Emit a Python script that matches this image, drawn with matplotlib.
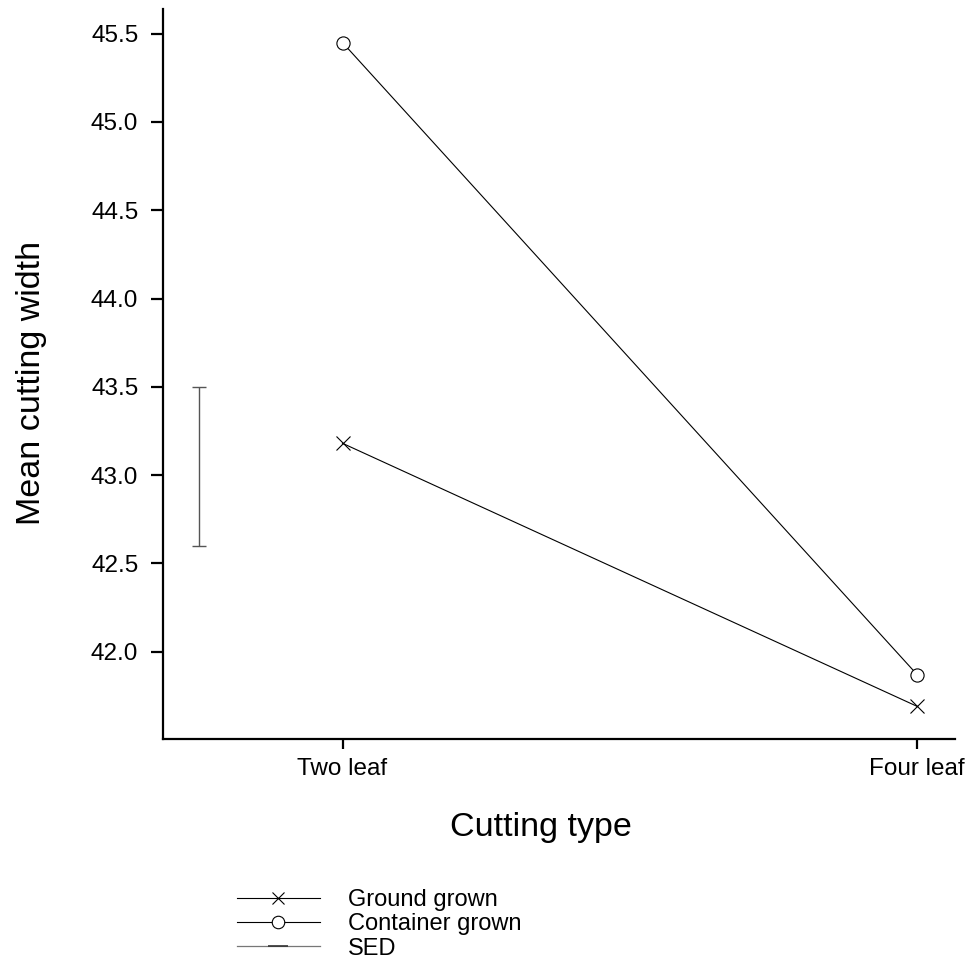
import matplotlib
matplotlib.use("Agg")
import matplotlib.pyplot as plt
from matplotlib.lines import Line2D

plt.rcParams['font.family'] = ['Liberation Sans', 'DejaVu Sans']

# Data
cutting_types = ["Two leaf", "Four leaf"]
ground_grown = [43.18, 41.69]
container_grown = [45.45, 41.87]
sed_low, sed_high = 42.6, 43.5

x = [1, 2]
sed_x = 0.75

fig = plt.figure(figsize=(9.66, 9.58), dpi=100)
ax = fig.add_axes([0.1684, 0.2286, 0.8202, 0.762])

ax.plot(x, ground_grown, color="black", lw=0.8, marker="x",
        markersize=10, markeredgewidth=0.8)
ax.plot(x, container_grown, color="black", lw=0.8, marker="o",
        markersize=9.5, markerfacecolor="white", markeredgewidth=0.8)

# SED bar
sed_mid = (sed_low + sed_high) / 2
ax.errorbar([sed_x], [sed_mid], yerr=[[sed_mid - sed_low]], fmt="none",
            ecolor="#555555", elinewidth=1.0, capsize=5, capthick=1.0)

ax.set_xlim(0.687, 2.066)
ax.set_ylim(41.505, 45.64)
ax.set_xticks(x)
ax.set_xticklabels(cutting_types)
ax.set_yticks([42.0, 42.5, 43.0, 43.5, 44.0, 44.5, 45.0, 45.5])
ax.set_yticklabels(["42.0", "42.5", "43.0", "43.5", "44.0", "44.5", "45.0", "45.5"])

for side in ["top", "right"]:
    ax.spines[side].set_visible(False)
for side in ["left", "bottom"]:
    ax.spines[side].set_linewidth(1.6)

ax.tick_params(axis="y", length=8.5, width=1.6, pad=9, labelsize=17.5)
ax.tick_params(axis="x", length=7, width=1.6, pad=6.5, labelsize=17.5)

ax.set_ylabel("Mean cutting width", fontsize=24.5)
ax.yaxis.set_label_coords(-0.146, 0.488)
ax.set_xlabel("Cutting type", fontsize=24.5)
ax.xaxis.set_label_coords(0.477, -0.1)

handles = [
    Line2D([], [], color="black", lw=0.8, marker="x", markersize=9,
           markeredgewidth=0.8),
    Line2D([], [], color="black", lw=0.8, marker="o", markersize=9,
           markerfacecolor="white", markeredgewidth=0.8),
    Line2D([], [], color="#777777", lw=0.9, marker="_", markersize=14,
           markeredgecolor="#333333", markeredgewidth=1.2),
]
fig.legend(handles, ["Ground grown", "Container grown", "SED"],
           loc="upper left", bbox_to_anchor=(237 / 966, 1 - 889 / 958),
           frameon=False, fontsize=17, handlelength=3.5,
           handletextpad=1.2, labelspacing=0.1, borderpad=0,
           borderaxespad=0)

fig.savefig("out.png", dpi=100)
